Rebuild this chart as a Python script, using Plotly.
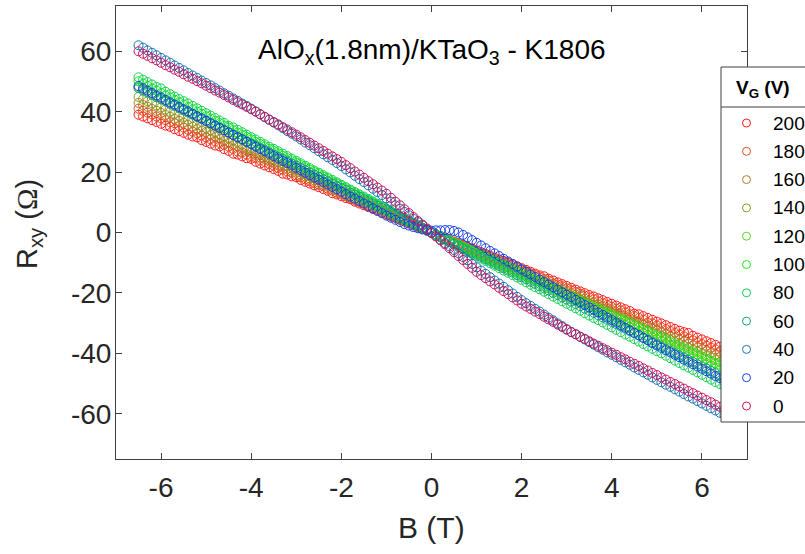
import plotly.graph_objects as go

# Magnetic field (T)
B_T = [-6.5, -6.4, -6.3, -6.2, -6.1, -6.0, -5.9, -5.8, -5.7, -5.6,
       -5.5, -5.4, -5.3, -5.2, -5.1, -5.0, -4.9, -4.8, -4.7, -4.6,
       -4.5, -4.4, -4.3, -4.2, -4.1, -4.0, -3.9, -3.8, -3.7, -3.6,
       -3.5, -3.4, -3.3, -3.2, -3.1, -3.0, -2.9, -2.8, -2.7, -2.6,
       -2.5, -2.4, -2.3, -2.2, -2.1, -2.0, -1.9, -1.8, -1.7, -1.6,
       -1.5, -1.4, -1.3, -1.2, -1.1, -1.0, -0.9, -0.8, -0.7, -0.6,
       -0.5, -0.4, -0.3, -0.2, -0.1, 0.0,
       0.1, 0.2, 0.3, 0.4, 0.5, 0.6, 0.7, 0.8, 0.9, 1.0,
       1.1, 1.2, 1.3, 1.4, 1.5, 1.6, 1.7, 1.8, 1.9, 2.0,
       2.1, 2.2, 2.3, 2.4, 2.5, 2.6, 2.7, 2.8, 2.9, 3.0,
       3.1, 3.2, 3.3, 3.4, 3.5, 3.6, 3.7, 3.8, 3.9, 4.0,
       4.1, 4.2, 4.3, 4.4, 4.5, 4.6, 4.7, 4.8, 4.9, 5.0,
       5.1, 5.2, 5.3, 5.4, 5.5, 5.6, 5.7, 5.8, 5.9, 6.0,
       6.1, 6.2, 6.3, 6.4, 6.5]

# R_xy (Ohm) for each gate voltage
R_200 = [39.0, 38.4, 37.8, 37.2, 36.6, 36.0, 35.4, 35.0, 34.2, 33.6,
         33.0, 32.4, 31.8, 31.5, 30.6, 30.0, 29.4, 28.8, 28.5, 27.6,
         27.0, 26.1, 25.8, 25.2, 24.6, 24.4, 23.4, 22.8, 22.2, 21.6,
         21.0, 20.4, 19.5, 19.2, 18.6, 18.3, 17.4, 16.8, 16.2, 15.6,
         15.0, 14.4, 13.8, 13.0, 12.6, 12.0, 11.4, 11.0, 10.2, 9.6,
         9.0, 8.4, 7.8, 7.2, 6.6, 6.0, 5.4, 4.8, 4.2, 3.6,
         3.0, 2.4, 1.8, 1.2, 0.6, 0.0,
         -0.6, -1.2, -1.8, -2.4, -3.0, -3.5, -4.1, -4.7, -5.3, -5.9,
         -6.5, -7.1, -7.7, -8.3, -8.9, -9.4, -10.0, -10.6, -11.2, -11.8,
         -12.4, -13.0, -13.6, -14.2, -14.5, -15.3, -15.9, -16.5, -17.1, -17.7,
         -18.3, -18.9, -19.5, -20.1, -20.7, -21.2, -21.8, -22.4, -23.0, -23.6,
         -24.2, -24.8, -25.4, -26.0, -26.9, -27.1, -27.7, -28.3, -28.9, -29.5,
         -30.1, -30.7, -31.3, -31.9, -32.5, -33.0, -33.3, -34.2, -34.8, -35.4,
         -36.0, -36.6, -37.2, -37.8, -38.4]

R_180 = [41.0, 40.3, 39.7, 39.1, 38.4, 37.8, 37.2, 36.5, 36.2, 35.3,
         34.7, 34.0, 33.4, 32.8, 32.1, 31.5, 30.9, 30.2, 29.6, 29.0,
         28.4, 27.7, 26.8, 26.5, 25.8, 25.2, 24.6, 23.9, 23.3, 22.7,
         22.1, 21.4, 20.8, 20.2, 19.8, 18.9, 18.3, 17.6, 17.0, 16.4,
         15.8, 15.4, 14.5, 13.9, 13.2, 12.6, 12.0, 11.3, 10.7, 10.1,
         9.5, 8.8, 8.2, 7.6, 6.9, 6.3, 5.7, 5.0, 4.4, 3.8,
         3.2, 2.5, 1.9, 1.3, 0.6, 0.0,
         -0.6, -1.2, -1.8, -2.5, -3.1, -3.7, -4.3, -4.9, -5.5, -6.2,
         -6.8, -7.4, -8.0, -8.6, -9.2, -9.8, -10.5, -11.1, -11.7, -12.3,
         -12.9, -13.5, -14.1, -14.8, -15.4, -16.0, -16.9, -17.2, -17.8, -18.5,
         -19.1, -19.7, -20.3, -20.9, -21.5, -22.1, -22.8, -23.4, -24.0, -24.6,
         -25.2, -25.8, -26.4, -27.1, -27.7, -28.3, -28.9, -29.8, -30.1, -30.8,
         -31.4, -32.0, -32.6, -33.2, -33.8, -34.4, -35.1, -35.7, -36.3, -36.9,
         -37.5, -38.1, -38.7, -39.4, -40.0]

R_160 = [42.9, 42.2, 41.6, 40.9, 40.3, 39.6, 38.9, 38.3, 37.6, 37.0,
         36.3, 35.6, 35.0, 34.3, 33.7, 33.3, 32.3, 31.7, 31.0, 30.4,
         29.7, 29.0, 28.4, 27.7, 27.1, 26.4, 25.7, 24.8, 24.4, 23.8,
         23.1, 22.4, 21.8, 21.1, 20.5, 19.8, 19.1, 18.5, 17.8, 17.2,
         16.5, 15.8, 15.2, 14.5, 13.9, 13.2, 12.5, 11.9, 11.2, 10.6,
         9.9, 9.2, 8.6, 7.9, 7.3, 6.6, 5.9, 5.3, 4.6, 4.0,
         3.3, 2.6, 2.0, 1.3, 0.7, 0.0,
         -0.6, -1.3, -1.9, -2.6, -3.2, -3.9, -4.5, -5.2, -5.8, -6.5,
         -7.1, -7.7, -8.4, -9.0, -9.7, -10.3, -11.0, -11.6, -12.3, -12.9,
         -13.5, -14.2, -14.8, -15.5, -16.1, -16.8, -17.4, -18.1, -18.7, -19.4,
         -20.0, -20.6, -21.0, -21.9, -22.6, -23.2, -23.9, -24.5, -25.2, -25.8,
         -26.4, -27.1, -27.7, -28.4, -29.0, -29.7, -30.3, -31.0, -31.6, -32.3,
         -32.9, -33.5, -34.5, -34.8, -35.5, -36.1, -36.8, -37.4, -38.1, -38.7,
         -39.3, -40.0, -40.6, -41.3, -41.9]

R_140 = [44.9, 44.2, 43.5, 42.8, 42.1, 41.4, 40.7, 40.0, 39.3, 38.6,
         38.3, 37.3, 36.6, 35.9, 35.2, 34.5, 33.8, 33.1, 32.4, 31.7,
         31.1, 30.4, 29.7, 29.0, 28.0, 27.6, 26.9, 26.2, 25.5, 24.8,
         24.2, 23.5, 22.8, 22.1, 21.4, 20.7, 20.0, 19.3, 18.6, 17.9,
         17.3, 16.6, 15.9, 15.2, 14.5, 13.8, 13.1, 12.4, 11.7, 11.0,
         10.4, 9.7, 9.0, 8.3, 7.6, 6.9, 6.2, 5.5, 4.8, 4.1,
         3.5, 2.8, 2.1, 1.4, 0.7, 0.0,
         -0.7, -1.3, -2.0, -2.7, -3.4, -4.0, -4.7, -5.4, -6.0, -6.7,
         -7.4, -8.0, -8.7, -9.4, -10.1, -10.7, -11.4, -12.1, -12.7, -13.4,
         -14.1, -14.7, -15.4, -16.1, -16.8, -17.4, -18.1, -18.8, -19.4, -20.1,
         -20.8, -21.4, -22.1, -22.8, -23.5, -24.1, -24.8, -25.5, -26.1, -26.8,
         -27.5, -28.1, -28.8, -29.5, -30.2, -30.8, -31.5, -32.2, -32.8, -33.5,
         -34.2, -34.8, -35.5, -36.2, -36.9, -37.5, -38.2, -38.9, -39.5, -40.2,
         -40.9, -41.5, -42.2, -42.9, -43.6]

R_120 = [48.1, 47.4, 46.6, 45.9, 45.1, 44.4, 43.7, 42.9, 42.2, 41.4,
         40.7, 40.0, 39.2, 38.5, 37.7, 37.0, 36.3, 35.5, 34.8, 34.0,
         33.3, 32.6, 31.8, 31.1, 30.3, 29.6, 28.9, 28.1, 27.4, 26.6,
         25.9, 25.2, 24.4, 23.7, 22.9, 22.2, 21.5, 20.7, 20.0, 19.2,
         18.5, 17.8, 17.0, 16.3, 15.5, 14.8, 14.1, 13.3, 12.6, 11.8,
         11.1, 10.4, 9.6, 8.9, 8.1, 7.4, 6.7, 5.9, 5.2, 4.4,
         3.7, 3.0, 2.2, 1.5, 0.7, 0.0,
         -0.7, -1.4, -2.1, -2.8, -3.6, -4.3, -5.0, -5.7, -6.4, -7.1,
         -7.8, -8.5, -9.2, -9.9, -10.7, -11.4, -12.1, -12.8, -13.5, -14.2,
         -14.9, -15.6, -16.3, -17.0, -17.8, -18.5, -19.2, -19.9, -20.6, -21.3,
         -22.0, -22.7, -23.4, -24.1, -24.9, -25.6, -26.3, -27.0, -27.7, -28.4,
         -29.1, -29.8, -30.5, -31.2, -32.0, -32.7, -33.4, -34.1, -34.8, -35.5,
         -36.2, -36.9, -37.6, -38.3, -39.1, -39.8, -40.5, -41.2, -41.9, -42.6,
         -43.3, -44.0, -44.7, -45.4, -46.2]

R_100 = [50.1, 49.3, 48.5, 47.7, 47.0, 46.2, 45.4, 44.7, 43.9, 43.1,
         42.4, 41.6, 40.8, 40.0, 39.3, 38.5, 37.7, 37.0, 36.2, 35.4,
         34.7, 33.9, 33.1, 32.3, 31.6, 30.8, 30.0, 29.3, 28.5, 27.7,
         27.0, 26.2, 25.4, 24.6, 23.9, 23.1, 22.3, 21.6, 20.8, 20.0,
         19.3, 18.5, 17.7, 16.9, 16.2, 15.4, 14.6, 13.9, 13.1, 12.3,
         11.6, 10.8, 10.0, 9.2, 8.5, 7.7, 6.9, 6.2, 5.4, 4.6,
         3.9, 3.1, 2.3, 1.5, 0.8, 0.0,
         -0.7, -1.4, -2.1, -2.7, -3.4, -4.1, -4.8, -5.5, -6.2, -6.9,
         -7.5, -8.2, -8.9, -9.6, -10.3, -11.0, -11.6, -12.3, -13.0, -13.7,
         -14.4, -15.1, -15.8, -16.4, -17.1, -17.8, -18.5, -19.2, -19.9, -20.6,
         -21.2, -21.9, -22.6, -23.3, -24.0, -24.7, -25.3, -26.0, -26.7, -27.4,
         -28.1, -28.8, -29.5, -30.1, -30.8, -31.5, -32.2, -32.9, -33.6, -34.3,
         -34.9, -35.6, -36.3, -37.0, -37.7, -38.4, -39.0, -39.7, -40.4, -41.1,
         -41.8, -42.5, -43.2, -43.8, -44.5]

R_80 = [51.4, 50.6, 49.8, 49.0, 48.2, 47.7, 46.6, 45.8, 45.0, 44.2,
        43.5, 42.7, 41.9, 41.1, 40.3, 39.5, 38.7, 37.9, 37.1, 36.3,
        35.3, 34.8, 34.0, 33.2, 32.4, 31.6, 30.8, 30.0, 29.2, 28.4,
        27.7, 26.9, 26.1, 25.3, 24.5, 23.7, 22.9, 22.1, 21.3, 20.5,
        19.8, 19.0, 18.2, 17.4, 16.6, 15.8, 15.0, 14.2, 13.4, 12.6,
        11.9, 11.1, 10.3, 9.5, 8.7, 7.9, 7.1, 6.3, 5.5, 4.7,
        4.0, 3.2, 2.4, 1.6, 0.8, 0.0,
        -0.8, -1.6, -2.4, -3.1, -3.9, -4.7, -5.5, -6.3, -7.1, -7.9,
        -8.6, -9.4, -10.2, -11.0, -11.8, -12.6, -13.3, -14.1, -14.9, -15.7,
        -16.5, -17.3, -18.1, -18.8, -19.6, -20.4, -21.2, -22.0, -22.8, -23.6,
        -24.3, -25.1, -25.9, -26.7, -27.5, -28.3, -29.0, -29.8, -30.6, -31.4,
        -32.2, -33.0, -33.8, -34.5, -35.3, -36.1, -36.9, -37.7, -38.5, -39.3,
        -40.0, -40.8, -41.6, -42.4, -43.2, -44.0, -44.7, -45.5, -46.3, -47.1,
        -47.9, -48.7, -49.5, -50.2, -51.0]

R_60 = [47.8, 47.0, 46.3, 45.6, 44.8, 44.1, 43.4, 42.6, 41.9, 41.2,
        40.4, 39.7, 39.0, 38.2, 37.5, 36.8, 36.0, 35.3, 34.5, 33.8,
        33.1, 32.3, 31.6, 30.9, 30.1, 29.4, 28.7, 27.9, 27.2, 26.5,
        25.7, 25.0, 24.3, 23.5, 22.8, 22.1, 21.3, 20.6, 19.8, 19.1,
        18.4, 17.6, 16.9, 16.2, 15.4, 14.7, 14.0, 13.2, 12.5, 11.8,
        11.0, 10.3, 9.6, 8.8, 8.1, 7.4, 6.6, 5.9, 5.1, 4.4,
        3.7, 2.9, 2.2, 1.5, 0.7, 0.0,
        -0.7, -1.5, -2.2, -3.0, -3.7, -4.4, -5.2, -5.9, -6.7, -7.4,
        -8.1, -8.9, -9.6, -10.4, -11.1, -11.8, -12.6, -13.3, -14.1, -14.8,
        -15.5, -16.3, -17.0, -17.8, -18.5, -19.2, -20.0, -20.7, -21.5, -22.2,
        -22.9, -23.7, -24.4, -25.2, -25.9, -26.6, -27.4, -28.1, -28.9, -29.6,
        -30.3, -31.1, -31.8, -32.6, -33.3, -34.0, -34.8, -35.5, -36.3, -37.0,
        -37.7, -38.5, -39.2, -40.0, -40.7, -41.4, -42.2, -42.9, -43.7, -44.4,
        -45.1, -45.9, -46.6, -47.4, -48.1]

R_40 = [62.0, 61.2, 60.3, 59.5, 58.7, 57.8, 57.0, 56.2, 55.3, 54.5,
        53.7, 52.8, 52.0, 51.2, 50.3, 49.5, 48.7, 47.8, 47.0, 46.1,
        45.3, 44.4, 43.6, 42.7, 41.9, 41.0, 40.1, 39.2, 38.2, 37.3,
        36.4, 35.5, 34.6, 33.6, 32.7, 31.8, 30.8, 29.8, 28.9, 27.9,
        26.9, 25.9, 24.9, 24.0, 23.0, 22.0, 20.9, 19.9, 18.8, 17.7,
        16.7, 15.6, 14.5, 13.4, 12.4, 11.3, 10.2, 9.0, 7.9, 6.8,
        5.7, 4.5, 3.4, 2.3, 1.1, 0.0,
        -1.2, -2.3, -3.5, -4.6, -5.8, -6.9, -8.1, -9.2, -10.4, -11.5,
        -12.6, -13.7, -14.8, -15.9, -16.9, -18.0, -19.1, -20.2, -21.3, -22.4,
        -23.4, -24.3, -25.3, -26.2, -27.2, -28.2, -29.1, -30.1, -31.0, -32.0,
        -32.9, -33.7, -34.6, -35.4, -36.3, -37.1, -38.0, -38.8, -39.7, -40.5,
        -41.3, -42.2, -43.0, -43.8, -44.7, -45.5, -46.3, -47.1, -48.0, -48.8,
        -49.6, -50.4, -51.1, -51.9, -52.7, -53.5, -54.3, -55.0, -55.8, -56.6,
        -57.4, -58.2, -58.9, -59.7, -60.5]

R_20 = [48.5, 47.7, 47.0, 46.2, 45.4, 44.7, 43.9, 43.1, 42.4, 41.6,
        40.8, 40.1, 39.3, 38.5, 37.8, 37.0, 36.2, 35.4, 34.7, 33.9,
        33.1, 32.3, 31.5, 30.8, 30.0, 29.2, 28.4, 27.6, 26.9, 26.1,
        25.3, 24.5, 23.7, 23.0, 22.2, 21.4, 20.6, 19.8, 19.0, 18.2,
        17.5, 16.7, 15.9, 15.1, 14.3, 13.5, 12.7, 11.9, 11.2, 10.4,
        9.6, 8.8, 8.0, 7.2, 6.4, 5.6, 4.9, 4.2, 3.5, 2.8,
        2.3, 1.8, 1.4, 1.0, 0.8, 0.6,
        0.7, 0.7, 0.8, 0.8, 0.5, 0.0, -0.8, -1.6, -2.5, -3.4,
        -4.3, -5.2, -6.1, -6.9, -7.8, -8.7, -9.6, -10.4, -11.3, -12.2,
        -13.0, -13.9, -14.7, -15.6, -16.4, -17.2, -18.1, -18.9, -19.8, -20.6,
        -21.4, -22.3, -23.1, -24.0, -24.8, -25.6, -26.5, -27.3, -28.2, -29.0,
        -29.8, -30.7, -31.5, -32.4, -33.2, -34.0, -34.9, -35.7, -36.6, -37.4,
        -38.2, -39.0, -39.7, -40.5, -41.3, -42.1, -42.8, -43.6, -44.4, -45.1,
        -45.9, -46.7, -47.5, -48.2, -49.0]

R_0 = [60.0, 59.2, 58.5, 57.7, 57.0, 56.2, 55.4, 54.7, 53.9, 53.2,
       52.4, 51.6, 50.9, 50.1, 49.4, 48.6, 47.8, 47.0, 46.3, 45.5,
       44.7, 43.9, 43.1, 42.4, 41.6, 40.8, 40.0, 39.1, 38.3, 37.4,
       36.6, 35.8, 34.9, 34.1, 33.2, 32.4, 31.5, 30.6, 29.7, 28.8,
       27.9, 27.0, 26.1, 25.2, 24.3, 23.4, 22.3, 21.3, 20.2, 19.2,
       18.1, 17.0, 16.0, 14.9, 13.9, 12.8, 11.5, 10.2, 9.0, 7.7,
       6.4, 5.1, 3.8, 2.6, 1.3, -0.2,
       -1.3, -2.6, -3.9, -5.2, -6.5, -7.8, -9.1, -10.4, -11.7, -13.0,
       -14.1, -15.1, -16.2, -17.2, -18.3, -19.4, -20.4, -21.5, -22.5, -23.6,
       -24.5, -25.3, -26.2, -27.0, -27.9, -28.8, -29.6, -30.5, -31.3, -32.2,
       -33.0, -33.7, -34.5, -35.2, -36.0, -36.8, -37.5, -38.3, -39.0, -39.8,
       -40.5, -41.3, -42.0, -42.8, -43.5, -44.2, -45.0, -45.7, -46.5, -47.2,
       -48.0, -48.7, -49.5, -50.2, -51.0, -51.7, -52.5, -53.2, -54.0, -54.7,
       -55.5, -56.2, -57.0, -57.7, -58.5]

VG_LABELS = ["200", "180", "160", "140", "120", "100", "80", "60", "40", "20", "0"]
SERIES = [R_200, R_180, R_160, R_140, R_120, R_100, R_80, R_60, R_40, R_20, R_0]
COLORS = ["#ff1616", "#e2501c", "#b87a2c", "#86a01e", "#5ad41a", "#10f010",
          "#12d050", "#1a9e82", "#1a72b8", "#1440e6", "#c8145c"]

FONT = "Liberation Sans, Arial, Helvetica, sans-serif"
AX = "#262626"
FRAME = "#404040"

fig = go.Figure()
for lab, vals, col in zip(VG_LABELS, SERIES, COLORS):
    fig.add_trace(go.Scatter(
        x=B_T, y=vals, mode="markers", name=lab, showlegend=False,
        marker=dict(symbol="circle-open", size=9, color=col,
                    line=dict(width=1, color=col)),
    ))

# plot area in pixels: left 116, right 747, top 6, bottom 459
L, R, T, Bm = 116, 747, 6, 459
W, H = R - L, Bm - T


def px(xp):
    return (xp - L) / W


def py(yp):
    return (Bm - yp) / H


axis_common = dict(
    showgrid=False, zeroline=False, showline=True, linecolor=FRAME,
    linewidth=1, mirror="ticks", ticks="inside", ticklen=6, tickwidth=1,
    tickcolor=FRAME,
    tickfont=dict(family=FONT, size=28, color=AX),
)

annotations = [
    dict(text="AlO<sub>x</sub>(1.8nm)/KTaO<sub>3</sub> - K1806",
         x=px(432), y=py(52), xref="paper", yref="paper",
         xanchor="center", yanchor="middle", showarrow=False,
         font=dict(family=FONT, size=28, color="black")),
    dict(text="B (T)", x=px(431), y=py(527), xref="paper", yref="paper",
         xanchor="center", yanchor="middle", showarrow=False,
         font=dict(family=FONT, size=30, color=AX)),
    dict(text="R<sub>xy</sub> (<span style='font-family:Liberation Serif'>Ω</span>)",
         x=px(29), y=py(224), xref="paper", yref="paper", textangle=-90,
         xanchor="center", yanchor="middle", showarrow=False,
         font=dict(family=FONT, size=29, color=AX)),
    # legend title
    dict(text="<b>V<sub>G</sub> (V)</b>", x=px(734), y=py(89),
         xref="paper", yref="paper", xanchor="left", yanchor="middle",
         showarrow=False, font=dict(family=FONT, size=19, color="black")),
]

shapes = [
    # legend box (runs past the right edge of the figure, as in the source)
    dict(type="rect", xref="paper", yref="paper", layer="above",
         x0=px(721), x1=px(840), y0=py(422), y1=py(67),
         fillcolor="white", line=dict(color=FRAME, width=1)),
    dict(type="line", xref="paper", yref="paper", layer="above",
         x0=px(721), x1=px(840), y0=py(107), y1=py(107),
         line=dict(color=FRAME, width=1)),
]

# legend entries
ENTRY_Y0, ENTRY_DY = 123.0, 28.3
for i, (lab, col) in enumerate(zip(VG_LABELS, COLORS)):
    yy = ENTRY_Y0 + ENTRY_DY * i
    shapes.append(dict(
        type="circle", xref="paper", yref="paper", layer="above",
        xsizemode="pixel", ysizemode="pixel",
        xanchor=px(746.5), yanchor=py(yy), x0=-4, x1=4, y0=-4, y1=4,
        line=dict(color=col, width=1), fillcolor="rgba(0,0,0,0)"))
    annotations.append(dict(
        text=lab, x=px(771), y=py(yy), xref="paper", yref="paper",
        xanchor="left", yanchor="middle", showarrow=False,
        font=dict(family=FONT, size=19, color="black")))

fig.update_layout(
    width=805, height=554,
    margin=dict(l=L, r=805 - R, t=T, b=554 - Bm, autoexpand=False),
    paper_bgcolor="white", plot_bgcolor="white",
    font=dict(family=FONT, color=AX),
    showlegend=False,
    xaxis=dict(range=[-7, 7], tickvals=[-6, -4, -2, 0, 2, 4, 6],
               ticktext=["-6", "-4", "-2", "0", "2", "4", "6"],
               ticklabelstandoff=3, **axis_common),
    yaxis=dict(range=[-75, 75], tickvals=[-60, -40, -20, 0, 20, 40, 60],
               ticktext=["-60", "-40", "-20", "0", "20", "40", "60"],
               ticklabelstandoff=-2, **axis_common),
    annotations=annotations,
    shapes=shapes,
)

# remove the default page margin so the figure sits at the window's corner
fig.write_html(
    "out.html",
    config={"displayModeBar": False},
    post_script="document.body.style.margin='0px';document.body.style.overflow='hidden';",
)
